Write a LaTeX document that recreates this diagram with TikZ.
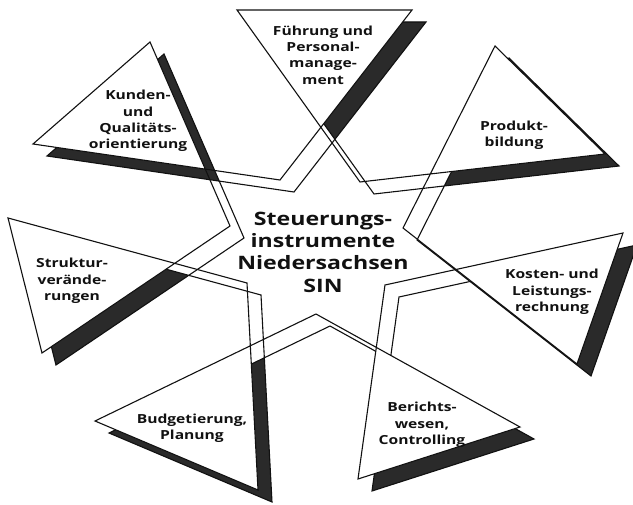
\documentclass[tikz,border=0pt]{standalone}
\usepackage{fontspec}
\setmainfont{Open Sans}[FakeStretch=1.25]
\definecolor{StarInk}{HTML}{111111}
\definecolor{StarShadow}{HTML}{2A2A2A}
\tikzset{
  every node/.style={text=StarInk},
  outline/.style={draw=StarInk, line width=1.1pt},
  shadowfill/.style={fill=StarShadow},
  armfill/.style={fill=white},
  armtext/.style={align=center, inner sep=0pt, font=\bfseries\fontsize{12.5}{16.3}\selectfont},
  hubtext/.style={align=center, inner sep=0pt, font=\bfseries\fontsize{18.5}{22.3}\selectfont},
}
\newcommand\starpath{(S1) -- (S2) -- (ISK) -- (K2) -- (K1) -- (IKF) -- (F2) -- (F1) -- (IFP)
  -- (P2) -- (P1) -- (IPC) -- (C2) -- (C1) -- (ICB) -- (B2) -- (B1) -- (IBG) -- (G2) -- (G1)
  -- (IGS) -- cycle}
\newcommand\armpath{(S1) -- (S2) -- (Sa) -- cycle (K2) -- (K1) -- (Ka) -- cycle
  (F2) -- (F1) -- (Fa) -- cycle (P2) -- (P1) -- (Pa) -- cycle (C2) -- (C1) -- (Ca) -- cycle
  (B2) -- (B1) -- (Ba) -- cycle (G2) -- (G1) -- (Ga) -- cycle}
\begin{document}
\begin{tikzpicture}[x=1pt,y=-1pt]
  \useasboundingbox (0,0) rectangle (633,505);

  % outer corners of the seven arms
  \coordinate (S1) at (8,218);
  \coordinate (S2) at (42,353);
  \coordinate (K1) at (33,144);
  \coordinate (K2) at (150,42);
  \coordinate (F1) at (237,10);
  \coordinate (F2) at (412,10);
  \coordinate (P1) at (495,46);
  \coordinate (P2) at (605,154);
  \coordinate (C1) at (623,233);
  \coordinate (C2) at (577,364);
  \coordinate (B1) at (520,427);
  \coordinate (B2) at (358,479);
  \coordinate (G1) at (258,490);
  \coordinate (G2) at (95,421);

  % inner corners round the hub
  \coordinate (ISK) at (230,226);
  \coordinate (IKF) at (280,180);
  \coordinate (IFP) at (360,182);
  \coordinate (IPC) at (403,228);
  \coordinate (ICB) at (385,285);
  \coordinate (IBG) at (316,314);
  \coordinate (IGS) at (247,283);

  % tips where the two sides of an arm cross
  \coordinate (Sa) at (intersection of IGS--S1 and S2--ISK);
  \coordinate (Ka) at (intersection of ISK--K2 and K1--IKF);
  \coordinate (Fa) at (intersection of IKF--F2 and F1--IFP);
  \coordinate (Pa) at (intersection of IFP--P2 and P1--IPC);
  \coordinate (Ca) at (intersection of IPC--C2 and C1--ICB);
  \coordinate (Ba) at (intersection of ICB--B2 and B1--IBG);
  \coordinate (Ga) at (intersection of IBG--G2 and G1--IGS);

  % shadow copy, shifted down and right
  \begin{scope}[transform canvas={shift={(14,12)}}]
    \fill[shadowfill] \armpath;
    \draw[outline] \starpath;
  \end{scope}

  % the star itself
  \fill[armfill] \armpath;
  \draw[outline] \starpath;

  % texts
  \node[hubtext] (hub) at (323,252) {Steuerungs-\\instrumente\\Niedersachsen\\SIN};
  \node[armtext] (fuehrung) at (323,55) {Führung und\\Personal-\\manage-\\ment};
  \node[armtext] (kunden) at (138,121) {Kunden-\\und\\Qualitäts-\\orientierung};
  \node[armtext] (produkt) at (514,135) {Produkt-\\bildung};
  \node[armtext] (kosten) at (552,292) {Kosten- und\\Leistungs-\\rechnung};
  \node[armtext] (berichte) at (422,425) {Berichts-\\wesen,\\Controlling};
  \node[armtext] (budget) at (192,428) {Budgetierung,\\Planung};
  \node[armtext] (struktur) at (72,281) {Struktur-\\verände-\\rungen};
\end{tikzpicture}
\end{document}
